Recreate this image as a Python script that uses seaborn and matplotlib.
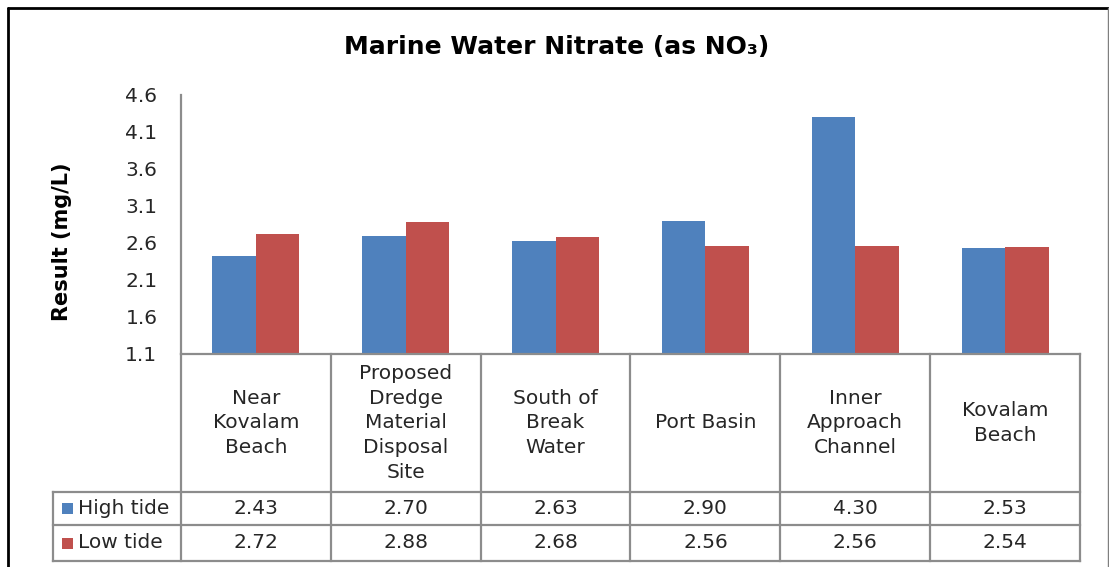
import numpy as np
import pandas as pd
import matplotlib.pyplot as plt
import seaborn as sns
from matplotlib.lines import Line2D
from matplotlib.patches import Rectangle

# data
sites = ["Near\nKovalam\nBeach", "Proposed\nDredge\nMaterial\nDisposal\nSite",
         "South of\nBreak\nWater", "Port Basin", "Inner\nApproach\nChannel",
         "Kovalam\nBeach"]
series = ["High tide", "Low tide"]
high_tide = [2.43, 2.70, 2.63, 2.90, 4.30, 2.53]
low_tide = [2.72, 2.88, 2.68, 2.56, 2.56, 2.54]
yticks = [1.1, 1.6, 2.1, 2.6, 3.1, 3.6, 4.1, 4.6]

colors = ["#4F81BD", "#C0504D"]
grid_col = "#8C8C8C"
txt_col = "#262626"
fs = 14.5

df = pd.DataFrame({
    "site": sites * 2,
    "tide": [series[0]] * len(sites) + [series[1]] * len(sites),
    "value": high_tide + low_tide,
})

sns.set_style("white")
plt.rcParams['font.family'] = ['DejaVu Sans']

W, H = 1109, 567
fig = plt.figure(figsize=(W / 100, H / 100), dpi=100)

# pixel helpers
def fx(px):
    return px / W

def fy(py):
    return 1 - py / H

ax_l, ax_r, ax_t, ax_b = 181, 1080, 95, 354
ax = fig.add_axes([fx(ax_l), fy(ax_b), fx(ax_r - ax_l), (ax_b - ax_t) / H])

sns.barplot(data=df, x="site", y="value", hue="tide", palette=colors,
            width=0.58, ax=ax, legend=False, saturation=1,
            edgecolor="none", linewidth=0)

ax.set_ylim(1.1, 4.6)
ax.set_xlim(-0.5, len(sites) - 0.5)
ax.set_yticks(yticks)
ax.set_yticklabels([f"{v:.1f}" for v in yticks])
ax.tick_params(axis="y", length=0, pad=17, labelsize=fs, labelcolor=txt_col)
ax.set_xticks([])
ax.set_xlabel("")
ax.set_ylabel("")
for s in ["top", "right"]:
    ax.spines[s].set_visible(False)
for s in ["left", "bottom"]:
    ax.spines[s].set_color(grid_col)
    ax.spines[s].set_linewidth(1.6)

# data table under the axes
def ay(py):
    return (ax_b - py) / (ax_b - ax_t)

def axx(px):
    return (px - ax_l) / (ax_r - ax_l)

row_hdr, row1, row2 = 492, 525, 561
leg_left = 53
lk = dict(color=grid_col, lw=1.6, clip_on=False, solid_capstyle="projecting")

for py in [row_hdr, row1, row2]:
    ax.add_line(Line2D([axx(leg_left), 1], [ay(py), ay(py)],
                       transform=ax.transAxes, **lk))
ax.add_line(Line2D([0, 0], [0, ay(row2)], transform=ax.transAxes, **lk))
ax.add_line(Line2D([axx(leg_left), axx(leg_left)], [ay(row_hdr), ay(row2)],
                   transform=ax.transAxes, **lk))
xt = ax.get_xaxis_transform()
for i in range(len(sites)):
    ax.add_line(Line2D([i + 0.5, i + 0.5], [0, ay(row2)], transform=xt, **lk))
    ax.text(i, ay((ax_b + row_hdr) / 2), sites[i], transform=xt,
            ha="center", va="center", fontsize=fs, color=txt_col,
            linespacing=1.38)
    ax.text(i, ay((row_hdr + row1) / 2), f"{high_tide[i]:.2f}", transform=xt,
            ha="center", va="center", fontsize=fs, color=txt_col)
    ax.text(i, ay((row1 + row2) / 2), f"{low_tide[i]:.2f}", transform=xt,
            ha="center", va="center", fontsize=fs, color=txt_col)

# legend keys in the table
for name, col, (top, bot) in zip(series, colors, [(row_hdr, row1), (row1, row2)]):
    yc = (top + bot) / 2
    fig.patches.append(Rectangle((fx(62), fy(yc + 5.5)), fx(11), 11 / H,
                                 facecolor=col, edgecolor="none",
                                 transform=fig.transFigure))
    fig.text(fx(78), fy(yc), name, ha="left", va="center",
             fontsize=fs, color=txt_col)

# title and y label
fig.text(fx(557), fy(47), "Marine Water Nitrate (as NO\u2083)", ha="center",
         va="center", fontsize=18, fontweight="bold", color="black")
fig.text(fx(62), fy(242), "Result (mg/L)", ha="center", va="center",
         rotation=90, fontsize=15, fontweight="bold", color="black")

# outer frame
fig.add_artist(Line2D([fx(8), fx(1108)], [fy(8), fy(8)], color="black", lw=2,
                      transform=fig.transFigure))
fig.add_artist(Line2D([fx(8), fx(8)], [fy(8), 0], color="black", lw=2,
                      transform=fig.transFigure))
fig.add_artist(Line2D([fx(1108), fx(1108)], [fy(8), 0], color="#7F7F7F", lw=1,
                      transform=fig.transFigure))

fig.savefig("out.png", dpi=100)
